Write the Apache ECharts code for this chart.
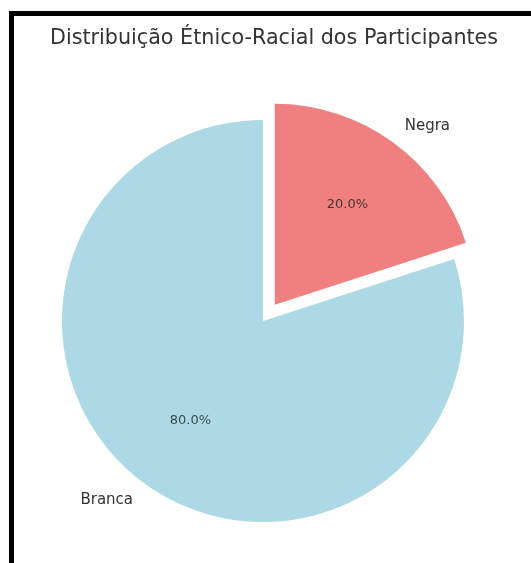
<!DOCTYPE html>
<html>
<head>
<meta charset="utf-8">
<style>
  html, body { margin: 0; padding: 0; background: #ffffff; }
  #chart { width: 531px; height: 563px; }
</style>
<script src="https://cdn.jsdelivr.net/npm/echarts@6/dist/echarts.min.js"></script>
</head>
<body>
<div id="chart"></div>
<script>
// Participant distribution by ethnic-racial group
const categories = ['Branca', 'Negra'];
const values = [80, 20];
const colors = ['#ADD8E6', '#F08080'];
const exploded = [false, true];

const FONT = 'DejaVu Sans';
const CENTER = [263, 321];
const RADIUS = 201;
const OFFSET = 20;

function items(transparent) {
  return categories.map((name, i) => ({
    name: name,
    value: values[i],
    selected: exploded[i],
    itemStyle: { color: transparent ? 'rgba(0,0,0,0)' : colors[i] },
    select: { itemStyle: { color: transparent ? 'rgba(0,0,0,0)' : colors[i], borderWidth: 0 } }
  }));
}

const chart = echarts.init(document.getElementById('chart'), null, { renderer: 'canvas' });
chart.setOption({
  backgroundColor: '#ffffff',
  animation: false,
  title: {
    text: 'Distribuição Étnico-Racial dos Participantes',
    left: 50,
    top: 28,
    padding: 0,
    textStyle: { fontFamily: FONT, fontSize: 20.7, fontWeight: 'normal', color: '#333333' }
  },
  graphic: [
    { type: 'rect', shape: { x: 9, y: 11, width: 522, height: 5 }, style: { fill: '#000' }, silent: true },
    { type: 'rect', shape: { x: 9, y: 11, width: 5, height: 552 }, style: { fill: '#000' }, silent: true }
  ],
  series: [
    {
      // wedges with category names outside
      type: 'pie',
      center: CENTER,
      radius: [0, RADIUS],
      startAngle: 90,
      clockwise: false,
      selectedMode: 'multiple',
      selectedOffset: OFFSET,
      avoidLabelOverlap: false,
      silent: true,
      itemStyle: { borderWidth: 0 },
      emphasis: { disabled: true },
      label: {
        show: true,
        position: 'outside',
        formatter: '{b}',
        fontFamily: FONT,
        fontSize: 15,
        color: '#333333',
        distanceToLabelLine: 0
      },
      labelLine: { show: false, length: RADIUS * 0.1, length2: 0 },
      data: items(false)
    },
    {
      // invisible copy carrying the percentage labels at 0.6 of the radius
      type: 'pie',
      center: CENTER,
      radius: [0, RADIUS * 1.2],
      startAngle: 90,
      clockwise: false,
      selectedMode: 'multiple',
      selectedOffset: OFFSET,
      avoidLabelOverlap: false,
      silent: true,
      emphasis: { disabled: true },
      label: {
        show: true,
        position: 'inside',
        formatter: (p) => p.percent.toFixed(1) + '%',
        fontFamily: FONT,
        fontSize: 13,
        color: 'rgba(20,20,20,0.75)'
      },
      labelLine: { show: false },
      data: items(true)
    }
  ]
});
</script>
</body>
</html>
